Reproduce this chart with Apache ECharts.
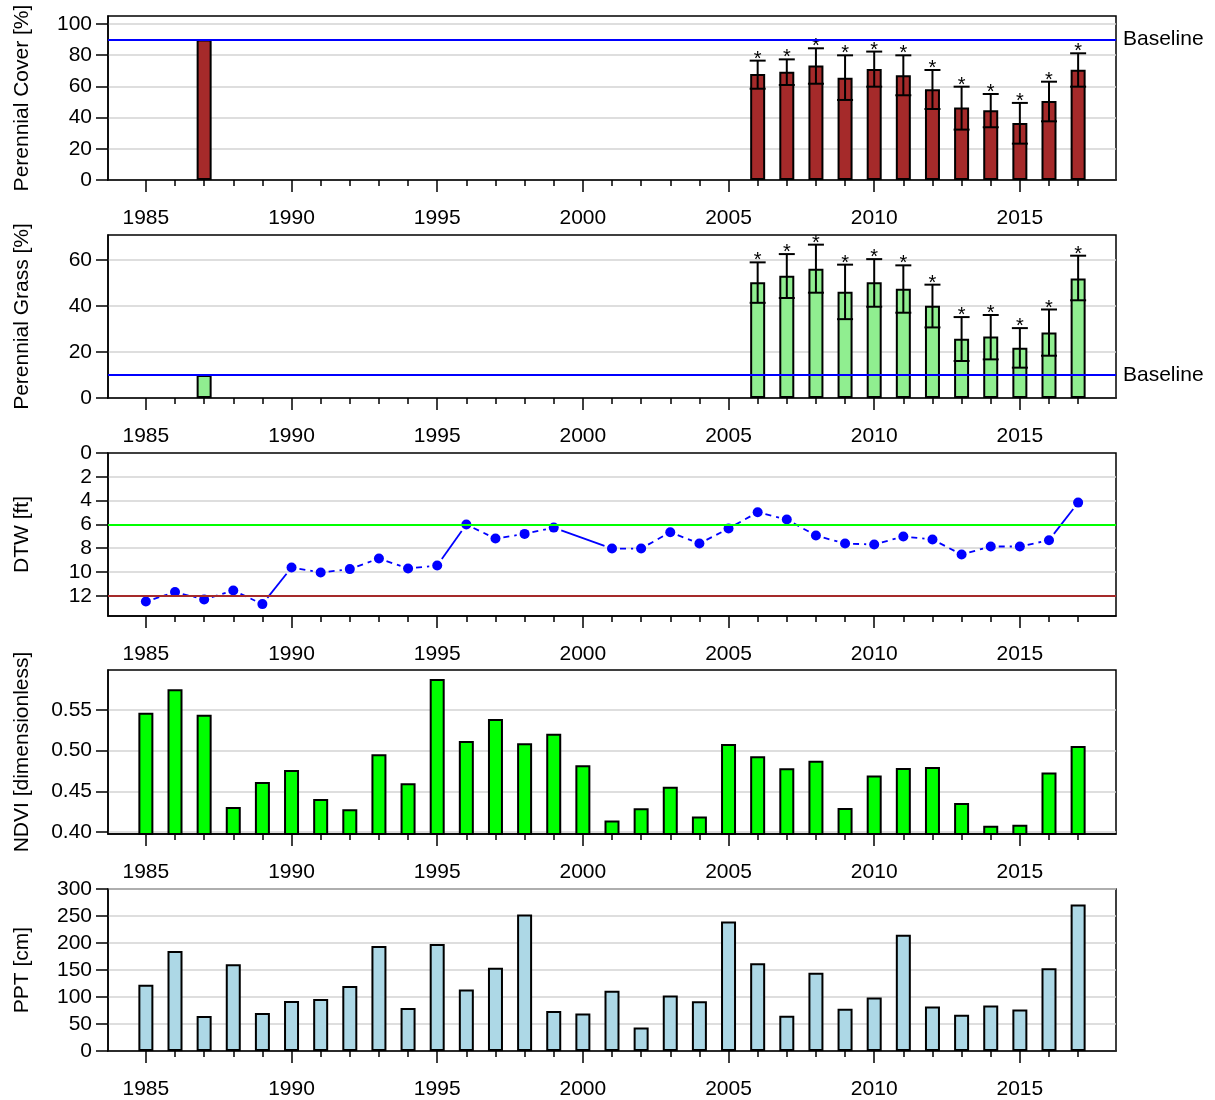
<!DOCTYPE html>
<html><head><meta charset="utf-8">
<script src="https://cdn.jsdelivr.net/npm/echarts@6/dist/echarts.min.js"></script>
<style>html,body{margin:0;padding:0;background:#fff}#c{width:1215px;height:1100px}</style>
</head><body><div id="c"></div>
<script>
// ---------- data ----------
const years = [1985,1986,1987,1988,1989,1990,1991,1992,1993,1994,1995,1996,1997,1998,1999,2000,2001,2002,2003,2004,2005,2006,2007,2008,2009,2010,2011,2012,2013,2014,2015,2016,2017];
const majorYears = [1985,1990,1995,2000,2005,2010,2015];

const vegYears   = [1987,2006,2007,2008,2009,2010,2011,2012,2013,2014,2015,2016,2017];
const coverMean  = [90, 68, 69.4, 73.3, 65.6, 71.2, 67.1, 58.1, 46.4, 44.7, 36.5, 50.6, 70.7];
const coverUpper = [null, 76.5, 77.3, 84.4, 79.9, 82.3, 79.9, 70.5, 59.8, 55.1, 49.4, 63.0, 81.2];
const coverLower = [null, 58.5, 60.9, 61.7, 51.3, 59.8, 54.3, 45.5, 32.3, 33.8, 23.3, 37.6, 59.8];
const coverSig   = [false,true,true,true,true,true,true,true,true,true,true,true,true];
const coverBaseline = 90;

const grassMean  = [10, 50.3, 53.2, 56.2, 46.2, 50.3, 47.5, 40.1, 25.8, 26.7, 21.9, 28.5, 52.0];
const grassUpper = [null, 59.0, 62.6, 66.7, 58.0, 60.4, 57.7, 49.3, 35.2, 36.1, 30.4, 38.5, 61.9];
const grassLower = [null, 41.4, 43.5, 45.8, 34.3, 39.7, 37.1, 30.7, 16.1, 16.8, 13.2, 18.4, 42.5];
const grassSig   = [false,true,true,true,true,true,true,true,true,true,true,true,true];
const grassBaseline = 10;

const dtw = [12.48, 11.69, 12.31, 11.55, 12.7, 9.62, 10.04, 9.76, 8.87, 9.71, 9.45, 6.01, 7.19, 6.8, 6.27, null,
             8.03, 8.03, 6.66, 7.61, 6.35, 4.98, 5.59, 6.94, 7.61, 7.69, 7.02, 7.27, 8.53, 7.86, 7.86, 7.33, 4.17];
const dtwSolidFrom = [1989, 1995, 1999, 2016];
const dtwGreenLine = 6;
const dtwRedLine = 12;

const ndvi = [0.5467, 0.5754, 0.5443, 0.4307, 0.4615, 0.4762, 0.4406, 0.4279, 0.4955, 0.4598, 0.5881, 0.5119, 0.5389, 0.5090, 0.5209, 0.4820,
              0.4140, 0.4291, 0.4557, 0.4189, 0.5082, 0.4930, 0.4783, 0.4877, 0.4295, 0.4693, 0.4787, 0.4799, 0.4357, 0.4078, 0.4090, 0.4730, 0.5057];

const ppt = [122.7, 185.3, 65.0, 160.7, 70.6, 92.6, 96.3, 120.2, 194.5, 79.8, 198.2, 114.1, 154.0, 252.8, 74.2, 69.3,
             111.8, 43.4, 102.7, 92.3, 239.6, 162.6, 65.4, 144.9, 78.2, 99.0, 215.2, 82.5, 67.2, 84.4, 77.0, 153.4, 271.4];

const coverTicks = [0,20,40,60,80,100];
const grassTicks = [0,20,40,60];
const dtwTicks = [0,2,4,6,8,10,12];
const ndviTicks = [0.40,0.45,0.50,0.55];
const pptTicks = [0,50,100,150,200,250,300];

// ---------- layout ----------
const FONT = '"Liberation Sans", Arial, sans-serif';
const FS = 21;
const panels = [
  {top:16,  height:164, yMin:0, yMax:105.1, ticks:coverTicks, name:'Perennial Cover [%]'},
  {top:235, height:163, yMin:0, yMax:70.9, ticks:grassTicks, name:'Perennial Grass [%]'},
  {top:453, height:163, yMin:0, yMax:13.7, ticks:dtwTicks, name:'DTW [ft]', inverse:true},
  {top:670, height:164, yMin:0.3975, yMax:0.5992, ticks:ndviTicks, name:'NDVI [dimensionless]', fmt:v=>v.toFixed(2)},
  {top:889, height:163, yMin:0, yMax:300, ticks:pptTicks, name:'PPT [cm]'}
];
const X_MIN = 1983.7, X_MAX = 2018.3;
const BLACK = '#000';

const grid = [], xAxis = [], yAxis = [], series = [];
panels.forEach((p, i) => {
  grid.push({left:108, right:99, top:p.top, height:p.height, show:true, borderColor:BLACK, borderWidth:1.5, backgroundColor:'transparent'});
  xAxis.push({type:'value', gridIndex:i, min:X_MIN, max:X_MAX,
    axisLine:{show:true, onZero:false, lineStyle:{color:BLACK, width:1.5}},
    axisTick:{show:true, length:12, customValues:majorYears, lineStyle:{color:BLACK, width:1.5}},
    axisLabel:{show:true, customValues:majorYears, margin:28, fontSize:FS, color:BLACK, fontFamily:FONT, formatter:v=>String(v)},
    splitLine:{show:false}});
  xAxis.push({type:'value', gridIndex:i, min:X_MIN, max:X_MAX, position:'bottom',
    axisLine:{show:false, onZero:false},
    axisTick:{show:true, length:6, customValues:years, lineStyle:{color:BLACK, width:1.5}},
    axisLabel:{show:false}, splitLine:{show:false}});
  yAxis.push({type:'value', gridIndex:i, min:p.yMin, max:p.yMax, inverse:!!p.inverse,
    name:p.name, nameLocation:'middle', nameGap:75, nameRotate:90,
    nameTextStyle:{fontSize:FS, color:BLACK, fontFamily:FONT},
    axisLine:{show:true, onZero:false, lineStyle:{color:BLACK, width:1.5}},
    axisTick:{show:true, length:12, customValues:p.ticks, lineStyle:{color:BLACK, width:1.5}},
    axisLabel:{show:true, customValues:p.ticks, margin:16, fontSize:FS, color:BLACK, fontFamily:FONT, formatter:p.fmt || (v=>String(v))},
    splitLine:{show:true, showMinLine:!p.inverse, lineStyle:{color:'#d3d3d3', width:1.5}}});
});

function baselineSeries(i, lines) {
  return {type:'line', xAxisIndex:2*i, yAxisIndex:i, data:[], z:1, silent:true,
    markLine:{silent:true, symbol:'none', animation:false,
      data:lines.map(l => ({yAxis:l.value, lineStyle:{color:l.color, width:2, type:'solid'},
        label:{show:!!l.label, position:'end', formatter:l.label||'', color:BLACK, fontSize:FS, fontFamily:FONT, distance:7}}))}};
}
function barSeries(i, xs, vals, color) {
  return {type:'bar', xAxisIndex:2*i, yAxisIndex:i, data:xs.map((x,k)=>[x, vals[k]]), barWidth:15, z:2,
    itemStyle:{color, borderColor:BLACK, borderWidth:2}};
}
function errorSeries(i, xs, lo, hi, sig) {
  const data = [];
  xs.forEach((x,k) => { if (hi[k] != null) data.push([x, lo[k], hi[k], sig[k] ? 1 : 0]); });
  return {type:'custom', xAxisIndex:2*i, yAxisIndex:i, data, z:4, silent:true,
    renderItem:(params, api) => {
      const x = api.value(0);
      const pH = api.coord([x, api.value(2)]);
      const pL = api.coord([x, api.value(1)]);
      const hw = 8;
      const st = {stroke:BLACK, lineWidth:2};
      const ch = [
        {type:'line', shape:{x1:pH[0], y1:pH[1], x2:pL[0], y2:pL[1]}, style:st},
        {type:'line', shape:{x1:pH[0]-hw, y1:pH[1], x2:pH[0]+hw, y2:pH[1]}, style:st},
        {type:'line', shape:{x1:pL[0]-hw, y1:pL[1], x2:pL[0]+hw, y2:pL[1]}, style:st}
      ];
      if (api.value(3)) ch.push({type:'text', style:{text:'*', x:pH[0], y:pH[1]-1.5, align:'center', verticalAlign:'middle', fontSize:20, fontFamily:FONT, fill:BLACK}});
      return {type:'group', children:ch};
    }};
}

// Panel 1
series.push(baselineSeries(0, [{value:coverBaseline, color:'#0000ff', label:'Baseline'}]));
series.push(barSeries(0, vegYears, coverMean, '#a52a2a'));
series.push(errorSeries(0, vegYears, coverLower, coverUpper, coverSig));
// Panel 2
series.push(baselineSeries(1, [{value:grassBaseline, color:'#0000ff', label:'Baseline'}]));
series.push(barSeries(1, vegYears, grassMean, '#90ee90'));
series.push(errorSeries(1, vegYears, grassLower, grassUpper, grassSig));
// Panel 3
series.push(baselineSeries(2, [{value:dtwGreenLine, color:'#00ff00'}, {value:dtwRedLine, color:'#a52a2a'}]));
const segData = [];
for (let k = 0; k < years.length - 1; k++) {
  if (dtw[k] == null) continue;
  let j = k + 1;
  while (j < years.length && dtw[j] == null) j++;
  if (j >= years.length) break;
  segData.push([years[k], dtw[k], years[j], dtw[j], dtwSolidFrom.indexOf(years[k]) >= 0 ? 1 : 0]);
}
series.push({type:'custom', xAxisIndex:4, yAxisIndex:2, data:segData, z:3, silent:true,
  renderItem:(params, api) => {
    const a = api.coord([api.value(0), api.value(1)]);
    const b = api.coord([api.value(2), api.value(3)]);
    const dx = b[0]-a[0], dy = b[1]-a[1], len = Math.hypot(dx, dy), g = 8;
    if (len <= 2*g) return null;
    const ux = dx/len, uy = dy/len;
    return {type:'line', shape:{x1:a[0]+ux*g, y1:a[1]+uy*g, x2:b[0]-ux*g, y2:b[1]-uy*g},
      style:{stroke:'#0000ff', lineWidth:1.8, lineDash: api.value(4) ? null : [6,5]}};
  }});
series.push({type:'scatter', xAxisIndex:4, yAxisIndex:2, z:4, symbol:'circle', symbolSize:10,
  itemStyle:{color:'#0000ff', opacity:1}, data:years.map((y,k)=>dtw[k]==null?null:[y, dtw[k]]).filter(d=>d)});
// Panel 4
series.push(barSeries(3, years, ndvi, '#00ff00'));
// Panel 5
series.push(barSeries(4, years, ppt, '#add8e6'));

const chart = echarts.init(document.getElementById('c'), null, {renderer:'canvas'});
chart.setOption({animation:false, grid, xAxis, yAxis, series});
</script></body></html>
